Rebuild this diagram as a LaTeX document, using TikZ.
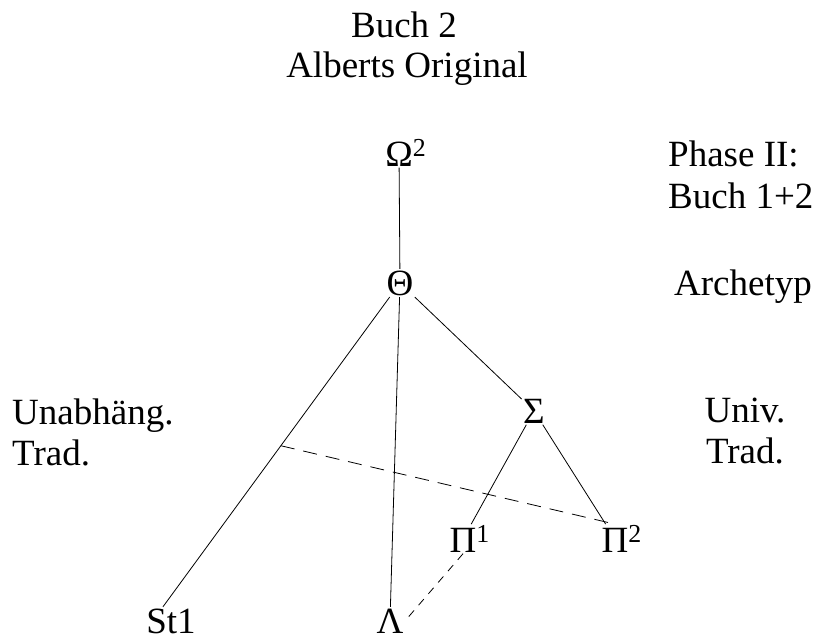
\documentclass[tikz,border=0pt]{standalone}
\usepackage{fontspec}
\setmainfont{Liberation Serif}
\begin{document}
\begin{tikzpicture}[x=1pt,y=-1pt,
  every node/.style={font=\fontsize{37}{42}\selectfont, inner sep=0pt},
  lbl/.style={anchor=base west},
  clbl/.style={anchor=base},
  sig/.style={anchor=base, inner sep=1.5pt},
  edge/.style={line width=0.8pt},
  longdash/.style={line width=0.8pt, dash pattern=on 14pt off 9pt},
  shortdash/.style={line width=0.8pt, dash pattern=on 8pt off 7pt}]
\useasboundingbox (0,0) rectangle (817,641);

% headings and side labels
\node[clbl] (title1) at (404,37) {Buch 2};
\node[clbl] (title2) at (407,77) {Alberts Original};
\node[lbl] (phase1) at (668,166) {Phase II:};
\node[lbl] (phase2) at (668,208) {Buch 1+2};
\node[lbl] (arch) at (674,295) {Archetyp};
\node[lbl] (unab1) at (12,424) {Unabhäng.};
\node[lbl] (unab2) at (12,465) {Trad.};
\node[clbl] (univ1) at (745,422) {Univ.};
\node[clbl] (univ2) at (745,463) {Trad.};

% sigla of the stemma
\node[sig] (omega) at (399,166) {Ω\rlap{\textsuperscript{2}}};
\node[sig] (theta) at (400,295) {Θ};
\node[sig] (sigma) at (534,423) {Σ};
\node[sig] (pi1) at (463,552) {Π\rlap{\textsuperscript{1}}};
\node[sig] (pi2) at (615,552) {Π\rlap{\textsuperscript{2}}};
\node[sig, text depth=0pt] (st1) at (171,633) {St1};
\node[sig, text depth=0pt] (lambda) at (390,633) {Λ};

% filiation lines
\draw[edge] (omega) -- (theta);
\draw[edge] (theta) -- (st1.120) coordinate[pos=0.48] (cont);
\draw[edge] (theta) -- (lambda);
\draw[edge] (theta) -- (sigma);
\draw[edge] (sigma) -- (pi1);
\draw[edge] (sigma) -- (pi2);

% contamination
\draw[longdash] (cont) -- (pi2.north);
\draw[shortdash] (pi1.south) -- (lambda.east);
\end{tikzpicture}
\end{document}
